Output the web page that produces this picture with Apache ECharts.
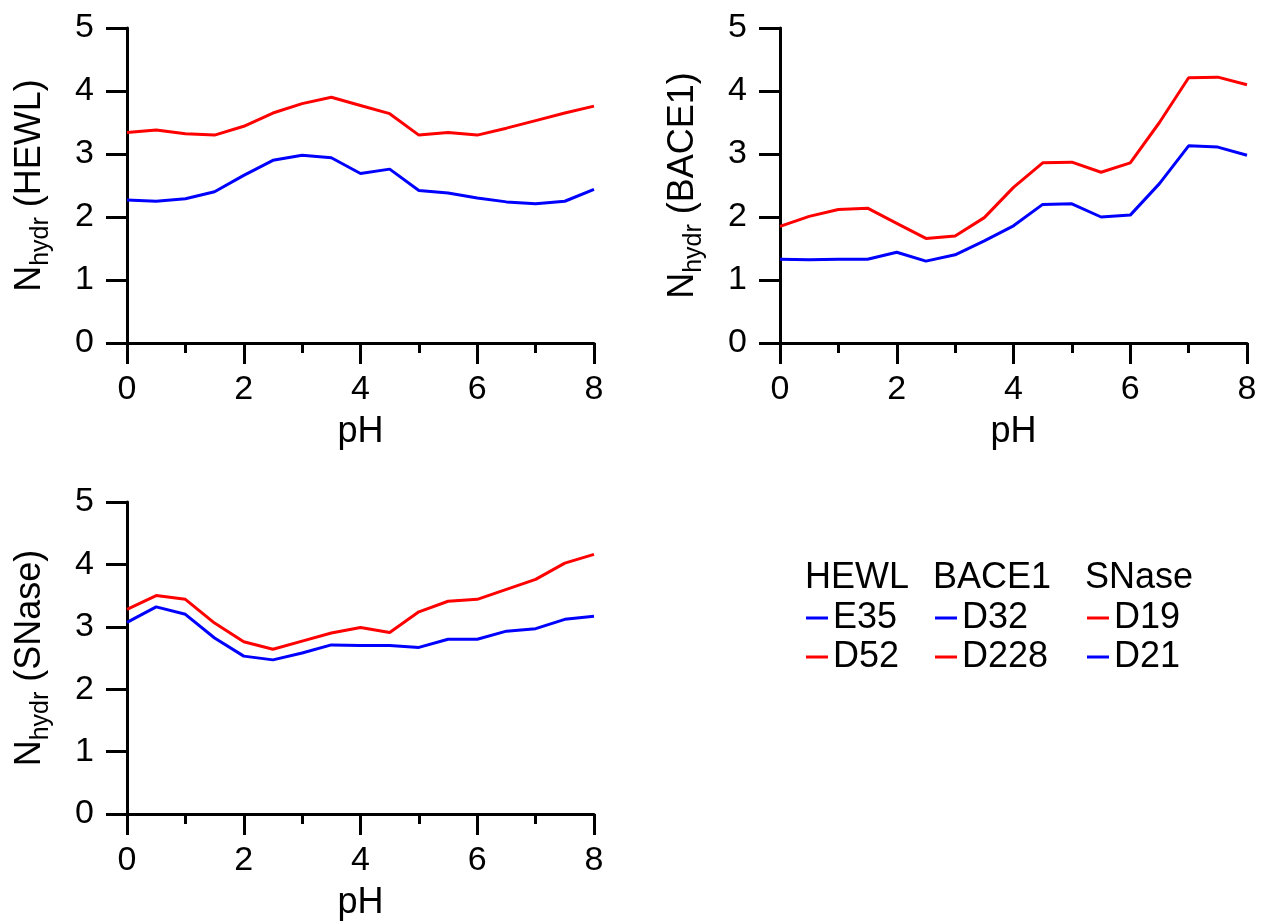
<!DOCTYPE html>
<html>
<head>
<meta charset="utf-8">
<script src="https://cdn.jsdelivr.net/npm/echarts@6/dist/echarts.min.js"></script>
<style>
html,body{margin:0;padding:0;background:#fff;}
#chart{width:1263px;height:922px;}
</style>
</head>
<body>
<div id="chart"></div>
<script>
const pH = [0,0.5,1,1.5,2,2.5,3,3.5,4,4.5,5,5.5,6,6.5,7,7.5,8];
const hewlE35 = [2.27,2.25,2.29,2.40,2.66,2.90,2.98,2.94,2.69,2.76,2.42,2.38,2.30,2.24,2.21,2.25,2.44];
const hewlD52 = [3.34,3.38,3.32,3.30,3.44,3.65,3.80,3.90,3.77,3.64,3.30,3.34,3.30,3.41,3.53,3.65,3.76];
const baceD32 = [1.33,1.32,1.33,1.33,1.44,1.30,1.40,1.62,1.86,2.20,2.21,2.00,2.03,2.53,3.13,3.11,2.98];
const baceD228 = [1.85,2.01,2.12,2.14,1.90,1.66,1.70,1.99,2.47,2.86,2.87,2.71,2.86,3.50,4.21,4.22,4.10];
const snaseD19 = [3.28,3.50,3.44,3.06,2.76,2.64,2.77,2.90,2.99,2.91,3.24,3.41,3.44,3.60,3.76,4.02,4.16];
const snaseD21 = [3.07,3.32,3.20,2.82,2.53,2.47,2.58,2.71,2.70,2.70,2.67,2.80,2.80,2.93,2.97,3.12,3.17];
const xTicks = [0,2,4,6,8];
const yTicks = [0,1,2,3,4,5];
const proteins = ['HEWL','BACE1','SNase'];

const FONT = "'Liberation Sans', Arial, Helvetica, sans-serif";
const BLUE = '#0000ff', RED = '#ff0000';

const chart = echarts.init(document.getElementById('chart'), null, {renderer:'canvas'});

const grids = [
  {left:127, top:28, width:467, height:315},
  {left:780, top:28, width:467, height:315},
  {left:127, top:502, width:467, height:315}
];

function xAxis(i){
  return {
    type:'value', gridIndex:i, min:0, max:8, interval:2,
    name:'pH', nameLocation:'middle', nameGap:71,
    nameTextStyle:{fontFamily:FONT, fontSize:36, color:'#000'},
    axisLine:{show:true, onZero:false, lineStyle:{color:'#000', width:3}},
    axisTick:{show:true, inside:false, length:21, lineStyle:{color:'#000', width:3}},
    minorTick:{show:true, splitNumber:2, length:10, lineStyle:{color:'#000', width:3}},
    splitLine:{show:false},
    axisLabel:{fontFamily:FONT, fontSize:34, color:'#000', margin:30,
      formatter: v => xTicks.includes(v) ? String(v) : ''}
  };
}
function yAxis(i, prot){
  return {
    type:'value', gridIndex:i, min:0, max:5, interval:1,
    name:'{n|N}{s|hydr}{n| (' + prot + ')}', nameLocation:'middle', nameGap:79,
    nameTextStyle:{fontFamily:FONT, color:'#000',
      rich:{
        n:{fontFamily:FONT, fontSize:36, color:'#000', verticalAlign:'top', lineHeight:36},
        s:{fontFamily:FONT, fontSize:25, color:'#000', verticalAlign:'top', lineHeight:25, padding:[17,0,0,0]}
      }},
    axisLine:{show:true, onZero:false, lineStyle:{color:'#000', width:3}},
    axisTick:{show:true, inside:false, length:21, lineStyle:{color:'#000', width:3}},
    splitLine:{show:false},
    axisLabel:{fontFamily:FONT, fontSize:34, color:'#000', margin:33,
      formatter: v => yTicks.includes(v) ? String(v) : ''}
  };
}
function pts(ys){ return pH.map((x,k)=>[x, ys[k]]); }
function line(name, ys, idx, color){
  return {name, type:'line', xAxisIndex:idx, yAxisIndex:idx, data:pts(ys),
    showSymbol:false, symbol:'none', lineStyle:{color, width:3}, itemStyle:{color},
    animation:false, silent:true};
}

function legend(names, left){
  return {
    data:names, orient:'vertical', left:left, top:600, padding:0,
    itemGap:3, itemWidth:22, itemHeight:3, icon:'rect',
    selectedMode:false,
    textStyle:{fontFamily:FONT, fontSize:36, color:'#000', lineHeight:36}
  };
}

const headerLefts = [805, 933, 1085];

chart.setOption({
  backgroundColor:'#fff',
  animation:false,
  grid: grids,
  xAxis: [xAxis(0), xAxis(1), xAxis(2)],
  yAxis: [yAxis(0,'HEWL'), yAxis(1,'BACE1'), yAxis(2,'SNase')],
  legend: [
    legend(['E35','D52'], 806),
    legend(['D32','D228'], 935),
    legend(['D19','D21'], 1087)
  ],
  graphic: proteins.map((p,i)=>({
    type:'text', left:headerLefts[i], top:560,
    style:{text:p, fontFamily:FONT, fontSize:36, fill:'#000'}
  })),
  series: [
    line('E35', hewlE35, 0, BLUE),
    line('D52', hewlD52, 0, RED),
    line('D32', baceD32, 1, BLUE),
    line('D228', baceD228, 1, RED),
    line('D19', snaseD19, 2, RED),
    line('D21', snaseD21, 2, BLUE)
  ]
});
</script>
</body>
</html>
